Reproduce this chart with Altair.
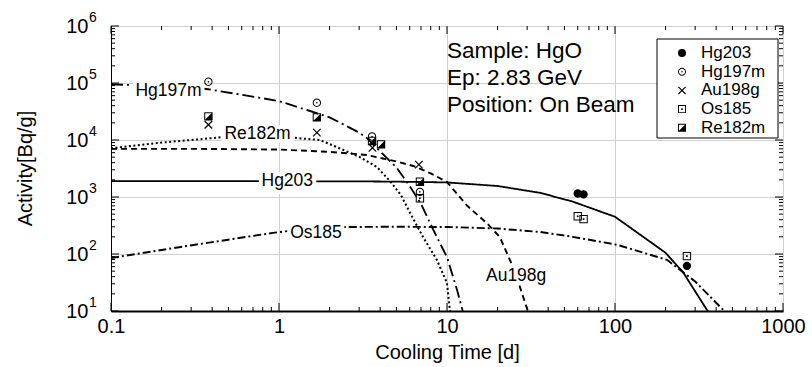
import altair as alt
import pandas as pd

FONT = "Liberation Sans"
series = ["Hg203", "Hg197m", "Au198g", "Os185", "Re182m"]

# ---- calculated curves (time [d], activity [Bq/g]) ----
hg203_t = [0.1, 0.3, 1, 3, 5, 10, 20, 36, 56, 100, 200, 254, 353, 420]
hg203_a = [1900, 1900, 1890, 1880, 1860, 1800, 1560, 1180, 830, 450, 105, 48, 10.4, 4.5]

hg197m_t = [0.1, 0.2, 0.37, 0.77, 1.0, 1.47, 2.0, 3.0, 3.34, 4.0, 5.0, 6.0, 7.0, 8.26, 10, 11.5, 12.4, 14]
hg197m_a = [95000, 88000, 78500, 55000, 48000, 33600, 25000, 13500, 10800, 6300, 3300, 1550, 760, 270, 88, 23, 10, 3]

re182m_t = [0.1, 0.2, 0.3, 0.46, 0.8, 1.2, 1.75, 2.21, 3.03, 3.83, 4.58, 5.3, 6.03, 7.19, 8.7, 10, 10.4, 11]
re182m_a = [7200, 9000, 10000, 11200, 11400, 11000, 10000, 7500, 5000, 3350, 1900, 1100, 525, 200, 79, 31, 10.5, 4]

au198g_t = [0.1, 0.3, 1, 2, 3.34, 5, 6.3, 8, 10, 13.2, 17.4, 20.6, 25, 30.3, 33]
au198g_a = [7000, 7000, 6800, 6200, 5460, 4200, 3500, 2600, 1830, 700, 340, 200, 55, 10, 6]

os185_t = [0.1, 0.31, 0.92, 1.5, 2.3, 5, 10, 20, 36, 56, 103, 204, 254, 300, 440, 520]
os185_a = [85, 144, 235, 280, 298, 300, 298, 280, 243, 200, 145, 79, 48, 33, 10.5, 7]

# ---- measured points ----
hg203_pt_t = [60, 65, 268]
hg203_pt_a = [1150, 1110, 62]
hg197m_pt_t = [0.38, 1.68, 3.58, 6.9]
hg197m_pt_a = [105000, 45000, 11500, 1230]
au198g_pt_t = [0.38, 1.68, 3.6, 6.8]
au198g_pt_a = [18500, 13500, 7300, 3700]
os185_pt_t = [6.9, 60, 65, 268]
os185_pt_a = [950, 460, 410, 92]
re182m_pt_t = [0.38, 1.68, 3.58, 4.05, 6.9]
re182m_pt_a = [26000, 25000, 9600, 8400, 1850]

# ---- curve labels ----
label_text = ["Hg197m", "Re182m", "Hg203", "Os185", "Au198g"]
label_t = [0.22, 0.745, 1.12, 1.66, 25.8]
label_a = [72400, 12700, 1900, 233, 41]

annotation_lines = ["Sample: HgO", "Ep: 2.83 GeV", "Position: On Beam"]

x_major = [0.1, 1, 10, 100, 1000]
y_major = [10, 100, 1000, 10000, 100000, 1000000]
y_exponents = ["1", "2", "3", "4", "5", "6"]
x_minor = [m * 10 ** k for k in range(-1, 3) for m in range(2, 10)]
y_minor = [m * 10 ** k for k in range(1, 6) for m in range(2, 10)]

curve_sets = {
    "Hg203": (hg203_t, hg203_a), "Hg197m": (hg197m_t, hg197m_a),
    "Au198g": (au198g_t, au198g_a), "Os185": (os185_t, os185_a),
    "Re182m": (re182m_t, re182m_a),
}
point_sets = {
    "Hg203": (hg203_pt_t, hg203_pt_a), "Hg197m": (hg197m_pt_t, hg197m_pt_a),
    "Au198g": (au198g_pt_t, au198g_pt_a), "Os185": (os185_pt_t, os185_pt_a),
    "Re182m": (re182m_pt_t, re182m_pt_a),
}
curves = pd.concat([pd.DataFrame({"curve": k, "t": v[0], "a": v[1]}) for k, v in curve_sets.items()])
points = pd.concat([pd.DataFrame({"nuclide": k, "t": v[0], "a": v[1]}) for k, v in point_sets.items()])
labels = pd.DataFrame({"text": label_text, "t": label_t, "a": label_a})
exps = pd.DataFrame({"a": y_major, "e": y_exponents})

W, H = 672, 285

xs = alt.Scale(type="log", domain=[0.1, 1000], nice=False)
ys = alt.Scale(type="log", domain=[10, 1000000], nice=False)

xaxis = alt.Axis(values=x_major, format=".4~g", title="Cooling Time [d]", grid=True,
                 gridColor="#d0d0d0", gridWidth=1, ticks=False, tickSize=0,
                 domainColor="black", domainWidth=2, labelFont=FONT, labelFontSize=20,
                 labelColor="black", labelPadding=5, labelFlush=False, labelOverlap=False,
                 titleFont=FONT, titleFontSize=20, titleFontWeight="normal", titleColor="black",
                 titleY=47, titleBaseline="alphabetic")
yaxis = alt.Axis(values=y_major, labelExpr="'10'",
                 title="Activity[Bq/g]", grid=True, gridColor="#d0d0d0", gridWidth=1,
                 ticks=False, tickSize=0, domainColor="black", domainWidth=1,
                 labelFont=FONT, labelFontSize=20, labelColor="black", labelPadding=23,
                 labelFlush=False, labelOverlap=False,
                 titleFont=FONT, titleFontSize=20, titleFontWeight="normal", titleColor="black",
                 titleX=-80, titleY=142, titleAngle=-90, titleBaseline="alphabetic")

X = alt.X("t:Q", scale=xs, axis=xaxis)
Y = alt.Y("a:Q", scale=ys, axis=yaxis)

dashes = [[1, 0], [12, 4, 2, 4], [6, 4], [8, 3, 2, 3], [2, 2.5]]
widths = [1.8, 2, 2, 1.8, 2]

lines = alt.Chart(curves).mark_line(clip=True, color="black").encode(
    x=X, y=Y, detail="curve:N",
    strokeDash=alt.StrokeDash("curve:N", scale=alt.Scale(domain=series, range=dashes), legend=None),
    strokeWidth=alt.StrokeWidth("curve:N", scale=alt.Scale(domain=series, range=widths), legend=None),
)

halo = alt.Chart(labels).mark_text(font=FONT, fontSize=17.5, fill="white", stroke="white",
                                    strokeWidth=8, strokeJoin="round").encode(x=X, y=Y, text="text:N")
lab = alt.Chart(labels).mark_text(font=FONT, fontSize=17.5, color="black").encode(x=X, y=Y, text="text:N")

exp_text = alt.Chart(exps).mark_text(font=FONT, fontSize=14, color="black", align="left",
                                     baseline="middle", dy=-8).encode(
    y=Y, x=alt.value(-22), text="e:N")

circ_dot = ("M1,0A1,1,0,1,1,-1,0A1,1,0,1,1,1,0Z "
            "M0.76,0A0.76,0.76,0,1,0,-0.76,0A0.76,0.76,0,1,0,0.76,0Z "
            "M0.2,0A0.2,0.2,0,1,1,-0.2,0A0.2,0.2,0,1,1,0.2,0Z")
cross_x = "M-0.8,-1L1,0.8L0.8,1L-1,-0.8Z M0.8,-1L1,-0.8L-0.8,1L-1,0.8Z"
sq_dot = ("M-1,-1L1,-1L1,1L-1,1Z M-0.76,-0.76L-0.76,0.76L0.76,0.76L0.76,-0.76Z "
          "M-0.2,-0.2L0.2,-0.2L0.2,0.2L-0.2,0.2Z")
sq_half = ("M-1,-1L1,-1L1,1L-1,1Z M-0.76,-0.76L-0.76,0.76L0.76,0.76L0.76,-0.76Z "
           "M0.76,-0.76L0.76,0.76L-0.76,0.76Z")
shapes = ["circle", circ_dot, cross_x, sq_dot, sq_half]

pts = alt.Chart(points).mark_point(filled=True, opacity=1, size=70, color="black",
                                   strokeWidth=0).encode(
    x=X, y=Y,
    shape=alt.Shape("nuclide:N", scale=alt.Scale(domain=series, range=shapes), legend=None),
)

def xticks(vals, length, top):
    df = pd.DataFrame({"t": vals})
    y1, y2 = (0, length) if top else (H, H - length)
    return alt.Chart(df).mark_rule(color="black", strokeWidth=1).encode(
        x=X, y=alt.value(y1), y2=alt.value(y2))

def yticks(vals, length, right):
    df = pd.DataFrame({"a": vals})
    x1, x2 = (W, W - length) if right else (0, length)
    return alt.Chart(df).mark_rule(color="black", strokeWidth=1).encode(
        y=Y, x=alt.value(x1), x2=alt.value(x2))

ticks = [xticks(x_minor, 4, False), xticks(x_minor, 4, True), xticks(x_major, 8, False),
         xticks(x_major, 8, True), yticks(y_minor, 4, False), yticks(y_minor, 4, True),
         yticks(y_major, 8, False), yticks(y_major, 8, True)]

one = pd.DataFrame({"k": [0]})
ann = [alt.Chart(one).mark_text(font=FONT, fontSize=22.5, color="black",
                                align="left", baseline="alphabetic").encode(
    x=alt.value(336), y=alt.value(yy), text=alt.value(txt))
    for txt, yy in zip(annotation_lines, [32.3, 59, 85.7])]

# ---- legend box (drawn as marks) ----
leg_box = alt.Chart(one).mark_rect(fill="white", stroke="black", strokeWidth=1).encode(
    x=alt.value(546), x2=alt.value(667), y=alt.value(13), y2=alt.value(112))
leg_rows = [27, 45.7, 64.4, 83.1, 101.8]
leg_layers = [leg_box]
for name, shp, yy in zip(series, shapes, leg_rows):
    df = pd.DataFrame({"nuclide": [name]})
    leg_layers.append(alt.Chart(df).mark_point(filled=True, opacity=1, size=64, color="black",
                                               strokeWidth=0, shape=shp).encode(
        x=alt.value(571), y=alt.value(yy)))
    leg_layers.append(alt.Chart(df).mark_text(font=FONT, fontSize=17, color="black",
                                              align="left", baseline="middle").encode(
        x=alt.value(590), y=alt.value(yy), text="nuclide:N"))

chart = alt.layer(lines, halo, lab, exp_text, *ticks, pts, *ann, *leg_layers).properties(
    width=W, height=H,
    autosize=alt.AutoSizeParams(type="none"),
    padding={"left": 111, "top": 26, "right": 29, "bottom": 56},
    background="white",
).configure_view(stroke="black", strokeWidth=1)

chart.save("out.html", embed_options={"renderer": "svg", "actions": False})
